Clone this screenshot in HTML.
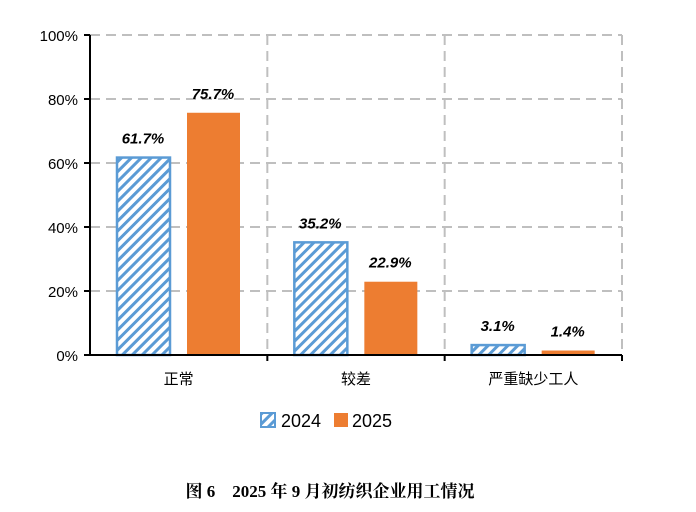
<!DOCTYPE html>
<html><head><meta charset="utf-8"><style>
body{margin:0;background:#fff;width:696px;height:507px;overflow:hidden}
svg text{font-family:"Liberation Sans","Noto Sans CJK SC",sans-serif}
</style></head><body>
<svg id="c" width="696" height="507">
<defs><pattern id="hatch" patternUnits="userSpaceOnUse" width="7" height="7" patternTransform="rotate(45)">
<rect width="7" height="7" fill="#fff"/><rect width="3" height="7" fill="#5b9bd5"/></pattern></defs>
<g id="grid"></g><g id="bars"></g><g id="axes"></g>
<g>
<rect x="261" y="413" width="14" height="14" fill="url(#hatch)" stroke="#5b9bd5" stroke-width="2"/>
<text x="281" y="427" font-size="18">2024</text>
<rect x="334" y="413" width="14" height="14" fill="#ed7d31"/>
<text x="352" y="427" font-size="18">2025</text>
</g>
<text x="330" y="497" font-size="17" font-weight="bold" text-anchor="middle" style='font-family:"Liberation Serif","Noto Serif CJK SC",serif'>图 6　2025 年 9 月初纺织企业用工情况</text>
</svg>
<script>
const categories=["正常","较差","严重缺少工人"];
const s2024=[61.7,35.2,3.1];
const s2025=[75.7,22.9,1.4];
const yTicks=[0,20,40,60,80,100];
const NS="http://www.w3.org/2000/svg";
const x0=90,x1=622,yB=355,yT=35,gw=(x1-x0)/categories.length;
const y=v=>yB-(v/100)*(yB-yT);
function mk(p,t,a){const e=document.createElementNS(NS,t);for(const k in a)e.setAttribute(k,a[k]);document.getElementById(p).appendChild(e);return e;}
yTicks.forEach(v=>{
 if(v>0){const g=mk('grid','line',{x1:x0,x2:x1,y1:y(v),y2:y(v),stroke:'#bfbfbf','stroke-width':2,'stroke-dasharray':'10,6'});
 
 }
 const t=mk('axes','line',{x1:x0-6,x2:x0,y1:y(v),y2:y(v),stroke:'#000','stroke-width':2});
 
 
 const l=mk('axes','text',{x:x0-12,y:y(v)+6,'font-size':15,'text-anchor':'end'});l.textContent=v+'%';
 
 
});
categories.forEach((c,i)=>{
 const gx=x0+gw*i;
 const vl=mk('grid','line',{x1:gx+gw,x2:gx+gw,y1:yT,y2:yB,stroke:'#bfbfbf','stroke-width':2,'stroke-dasharray':'10,6'});
 
 
 const b1=mk('bars','rect',{x:gx+27,y:y(s2024[i]),width:53,height:yB-y(s2024[i]),fill:'url(#hatch)',stroke:'#5b9bd5','stroke-width':2.5});
 
 
 const b2=mk('bars','rect',{x:gx+97,y:y(s2025[i]),width:53,height:yB-y(s2025[i]),fill:'#ed7d31'});
 
 
 const l1=mk('bars','text',{x:gx+53,y:y(s2024[i])-14,'font-size':15,'font-weight':'bold','font-style':'italic','text-anchor':'middle'});l1.textContent=s2024[i].toFixed(1)+'%';
 
 
 const l2=mk('bars','text',{x:gx+123,y:y(s2025[i])-14,'font-size':15,'font-weight':'bold','font-style':'italic','text-anchor':'middle'});l2.textContent=s2025[i].toFixed(1)+'%';
 
 
 const cl=mk('axes','text',{x:gx+gw/2,y:384,'font-size':15,'text-anchor':'middle'});cl.textContent=c;
 
 
 const xt=mk('axes','line',{x1:gx+gw,x2:gx+gw,y1:yB,y2:yB+6,stroke:'#000','stroke-width':2});
 
 
});
const ya=mk('axes','line',{x1:x0,x2:x0,y1:yT,y2:yB,stroke:'#000','stroke-width':2});


const xa=mk('axes','line',{x1:x0,x2:x1,y1:yB,y2:yB,stroke:'#000','stroke-width':2});


</script>
</body></html>
